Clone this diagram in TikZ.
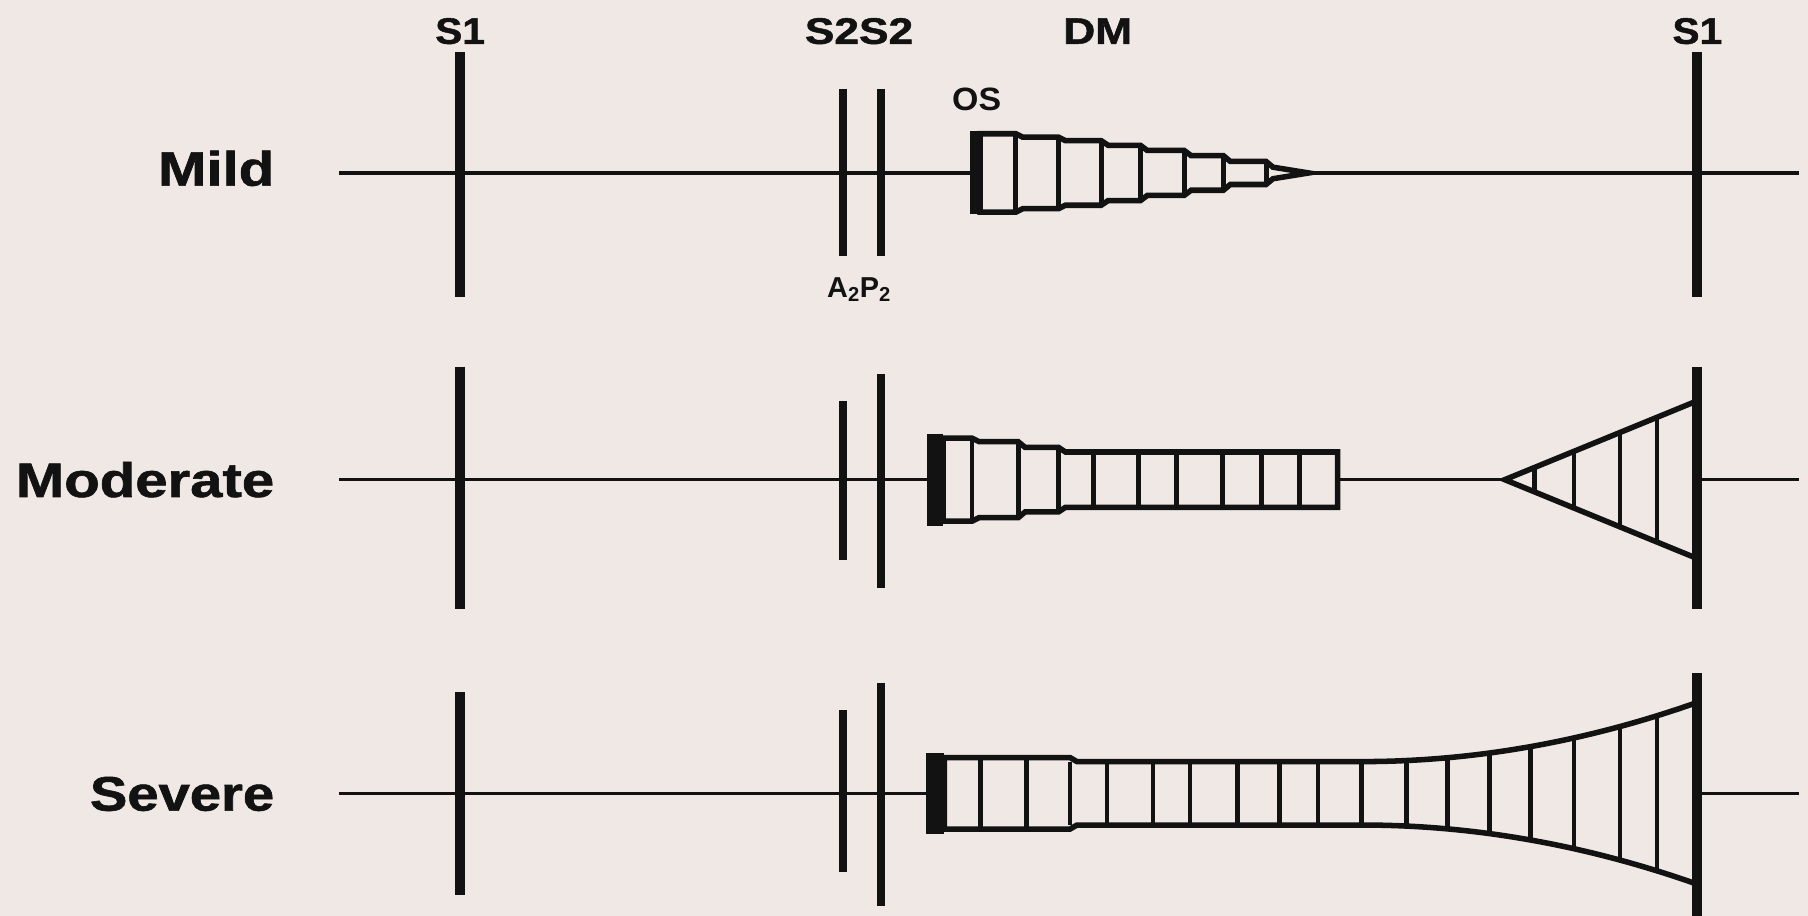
\documentclass[tikz,border=0pt]{standalone}
\usepackage{graphicx}
\usepackage{fontspec}
\setmainfont{Liberation Sans}
\newfontfamily\heavyfont[FakeBold=1.2]{Liberation Sans Bold}
\definecolor{paper}{RGB}{239,232,229}
\definecolor{ink}{RGB}{18,18,18}
\newcommand\stretchx[2][1.2]{\scalebox{#1}[1]{#2}}
\begin{document}
\begin{tikzpicture}[x=1pt,y=-1pt,
  baseline line/.style={draw=ink,line width=3},
  sone/.style={draw=ink,line width=8.5},
  stwo/.style={draw=ink,line width=7.5},
  snap/.style={draw=ink},
  env/.style={draw=ink,fill=paper,line width=4.8,line join=miter},
  hatch/.style={draw=ink,line width=4.2},
  rowlbl/.style={anchor=base east,inner sep=0pt,text=ink,
    font=\fontsize{42}{48}\heavyfont},
  toplbl/.style={anchor=base,inner sep=0pt,text=ink,
    font=\fontsize{32}{38}\heavyfont},
  smalllbl/.style={anchor=base,inner sep=0pt,text=ink,
    font=\fontsize{28}{32}\selectfont\bfseries}]

% page
\fill[paper] (0,0) rectangle (1568,794);
\useasboundingbox (0,0) rectangle (1568,794);

% row axes
\coordinate (mildL) at (294,150);  \coordinate (mildR) at (1560,150);
\coordinate (modL)  at (294,416);  \coordinate (modR)  at (1560,416);
\coordinate (sevL)  at (294,688);  \coordinate (sevR)  at (1560,688);
\draw[baseline line] (mildL) -- (mildR);
\draw[baseline line] (modL) -- (modR);
\draw[baseline line] (sevL) -- (sevR);

% ---------- mild: decrescendo after the opening snap ----------
\filldraw[env] (850,116) -- (881,116) -- (887,119) -- (918,119) -- (924,122)
  -- (955,122) -- (961,126) -- (989,126) -- (995,130.5) -- (1027,130.5)
  -- (1033,135) -- (1061,135) -- (1067,140) -- (1098,140) -- (1104,145)
  -- (1135,150) -- (1104,155) -- (1098,160) -- (1067,160) -- (1061,165)
  -- (1033,165) -- (1027,169.5) -- (995,169.5) -- (989,174) -- (961,174)
  -- (955,178) -- (924,178) -- (918,181) -- (887,181) -- (881,184)
  -- (850,184) -- cycle;
\foreach \x/\h in {881/34,918/31,955/28,989/24,1027/19.5,1061/15,1098/10}
  \draw[hatch] (\x,150-\h) -- (\x,150+\h);
\draw[snap,line width=9] (846,114) -- (846,186);

% ---------- moderate: long diastolic rumble + presystolic crescendo ----------
\filldraw[env] (818,380) -- (843,380) -- (849,383) -- (883,383) -- (889,388)
  -- (918,388) -- (924,392) -- (1160,392) -- (1160,440) -- (924,440)
  -- (918,444) -- (889,444) -- (883,449) -- (849,449) -- (843,452)
  -- (818,452) -- cycle;
\foreach \x/\h in {843/36,883/33,918/28,948/24,987/24,1020/24,1060/24,1094/24,1127/24}
  \draw[hatch] (\x,416-\h) -- (\x,416+\h);
\draw[snap,line width=14] (811,376) -- (811,456);

\filldraw[env] (1305,416) -- (1471,348) -- (1471,484) -- cycle;
\foreach \x in {1331,1365,1405,1437}{
  \pgfmathsetmacro\h{68*(\x-1305)/166}
  \draw[hatch] (\x,416-\h) -- (\x,416+\h);
}

% ---------- severe: holodiastolic murmur ----------
\filldraw[env] (819,657) -- (928,657) -- (934,660.5) -- (1181,660.5)
  -- plot[domain=1181:1471,samples=40] (\x,{688-27.5-51*((\x-1181)/290)^2})
  -- (1471,766.5)
  -- plot[domain=1471:1181,samples=40] (\x,{688+27.5+51*((\x-1181)/290)^2})
  -- (934,715.5) -- (928,719) -- (819,719) -- cycle;
\foreach \x in {850,890,928,960,1000,1032,1073,1110,1143,1181,1220,1255,1292,1327,1365,1405,1437}{
  \pgfmathsetmacro\h{\x<928 ? 31 : (\x<1181 ? 27.5 : 27.5+51*((\x-1181)/290)^2)}
  \draw[hatch] (\x,688-\h) -- (\x,688+\h);
}
\draw[snap,line width=15] (811,653) -- (811,723);

% ---------- heart sounds ----------
% S1 (left)
\draw[sone] (399,45) -- (399,258);
\draw[sone] (399,318) -- (399,528);
\draw[sone] (399,600) -- (399,776);
% S1 (right)
\draw[sone] (1472,45) -- (1472,258);
\draw[sone] (1472,318) -- (1472,528);
\draw[sone] (1472,584) -- (1472,794);
% A2 and P2
\draw[stwo] (731,77) -- (731,222);
\draw[stwo] (764,77) -- (764,222);
\draw[stwo] (731,348) -- (731,486);
\draw[stwo] (764,324) -- (764,510);
\draw[stwo] (731,616) -- (731,756);
\draw[stwo] (764,592) -- (764,786);

% ---------- labels ----------
\node[toplbl] (lblsone) at (399,38) {\stretchx[1.1]{S1}};
\node[toplbl] (lblstwo) at (745,38) {\stretchx{S2S2}};
\node[toplbl] (lbldm) at (952,38) {\stretchx{DM}};
\node[toplbl] (lblsoneb) at (1472,38) {\stretchx[1.1]{S1}};
\node[smalllbl] (lblos) at (847,96) {\stretchx[1.05]{OS}};
\node[smalllbl,font=\fontsize{25}{30}\selectfont\bfseries] (lblap) at (745,258)
  {A\textsubscript{2}P\textsubscript{2}};

\node[rowlbl] (rowmild) at (238,161) {\stretchx{Mild}};
\node[rowlbl] (rowmod) at (238,431) {\stretchx{Moderate}};
\node[rowlbl] (rowsev) at (238,703) {\stretchx[1.16]{Severe}};
\end{tikzpicture}
\end{document}
